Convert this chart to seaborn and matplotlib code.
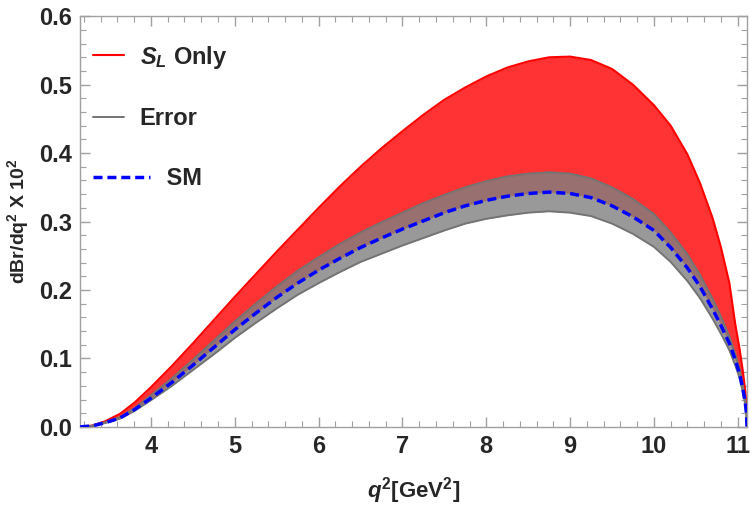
import numpy as np
import pandas as pd
import matplotlib
matplotlib.use("Agg")
import matplotlib.pyplot as plt
import seaborn as sns
from matplotlib.ticker import MultipleLocator, FormatStrFormatter
from matplotlib.legend_handler import HandlerLine2D

# q^2 grid (GeV^2) and curves
q2 = [3.157, 3.3, 3.45, 3.63, 3.8, 4.0, 4.25, 4.5, 4.75, 5.0, 5.25, 5.5, 5.75, 6.0,
      6.25, 6.5, 6.75, 7.0, 7.25, 7.5, 7.75, 8.0, 8.25, 8.5, 8.75, 9.0, 9.25, 9.5,
      9.75, 10.0, 10.2, 10.4, 10.55, 10.7, 10.8, 10.9, 10.97, 11.02, 11.06, 11.09,
      11.105, 11.11]
sm = [0.0, 0.0015, 0.006, 0.013, 0.025, 0.042, 0.065, 0.090, 0.116, 0.142, 0.166, 0.189,
      0.210, 0.229, 0.246, 0.262, 0.276, 0.289, 0.301, 0.313, 0.323, 0.331, 0.337, 0.341,
      0.343, 0.341, 0.335, 0.323, 0.307, 0.287, 0.262, 0.232, 0.205, 0.172, 0.148, 0.122,
      0.098, 0.078, 0.056, 0.035, 0.018, 0.0]
sl_upper = [0.0, 0.002, 0.008, 0.019, 0.035, 0.058, 0.089, 0.122, 0.156, 0.190, 0.223, 0.256,
            0.288, 0.320, 0.351, 0.380, 0.407, 0.432, 0.456, 0.478, 0.496, 0.512, 0.525, 0.534,
            0.540, 0.541, 0.536, 0.523, 0.500, 0.470, 0.440, 0.398, 0.356, 0.305, 0.262, 0.210,
            0.150, 0.115, 0.082, 0.052, 0.028, 0.0]
err_upper = [0.0, 0.0016, 0.0065, 0.014, 0.027, 0.046, 0.071, 0.098, 0.126, 0.154, 0.180, 0.205,
             0.228, 0.248, 0.267, 0.284, 0.299, 0.313, 0.327, 0.339, 0.350, 0.359, 0.366, 0.370,
             0.372, 0.370, 0.363, 0.350, 0.333, 0.311, 0.284, 0.252, 0.222, 0.187, 0.161, 0.132,
             0.106, 0.085, 0.061, 0.038, 0.020, 0.0]
err_lower = [0.0, 0.0014, 0.0055, 0.012, 0.023, 0.039, 0.060, 0.083, 0.106, 0.130, 0.152, 0.173,
             0.193, 0.210, 0.226, 0.241, 0.253, 0.265, 0.276, 0.287, 0.297, 0.304, 0.309, 0.313,
             0.315, 0.313, 0.308, 0.297, 0.282, 0.263, 0.241, 0.213, 0.188, 0.158, 0.136, 0.112,
             0.090, 0.072, 0.051, 0.032, 0.017, 0.0]

df = pd.DataFrame({"q2": q2, "sm": sm, "sl": sl_upper, "eu": err_upper, "el": err_lower})

sns.set_style("ticks")
plt.rcParams["font.family"] = ["Liberation Sans", "DejaVu Sans"]
plt.rcParams["font.weight"] = "bold"
plt.rcParams["mathtext.fontset"] = "custom"
plt.rcParams["mathtext.rm"] = "Liberation Sans:bold"
plt.rcParams["mathtext.it"] = "Liberation Sans:bold:italic"
plt.rcParams["mathtext.bf"] = "Liberation Sans:bold"
plt.rcParams["mathtext.default"] = "regular"


class LongHandle(HandlerLine2D):
    # the SM legend sample is drawn longer than the others
    def get_xdata(self, legend, xdescent, ydescent, width, height, fontsize):
        xd, xm = super().get_xdata(legend, xdescent, ydescent, width, height, fontsize)
        xd = np.array([-xdescent, -xdescent + width * 1.85])
        return xd, xm


fig, ax = plt.subplots(figsize=(7.5, 5.07), dpi=100)
fig.subplots_adjust(left=0.107, right=0.996, bottom=0.158, top=0.968)

# S_L only band (from SM up to the red curve)
ax.fill_between(df["q2"], df["sm"], df["sl"], color="#ff3333", lw=0, zorder=1)
sns.lineplot(data=df, x="q2", y="sl", color="red", lw=1.5, ax=ax, zorder=2,
             estimator=None, label="$\\mathit{S}_\\mathit{L}$ Only")

# theory error band on SM
ax.fill_between(df["q2"], df["el"], df["eu"], color="#808080", alpha=0.8, lw=0, zorder=3)
sns.lineplot(data=df, x="q2", y="eu", color="#747474", lw=1.4, ax=ax, zorder=4,
             estimator=None, label="Error")
sns.lineplot(data=df, x="q2", y="el", color="#747474", lw=1.4, ax=ax, zorder=4,
             estimator=None, label="_nolegend_")

sns.lineplot(data=df, x="q2", y="sm", color="blue", lw=2.5, ax=ax, zorder=5,
             estimator=None, label="    SM")
sm_line = ax.lines[-1]
sm_line.set_dashes([2.6, 1.4])

ax.set_xlim(3.157, 11.11)
ax.set_ylim(0, 0.6)
ax.set_xticks([4, 5, 6, 7, 8, 9, 10, 11])
ax.xaxis.set_minor_locator(MultipleLocator(0.2))
ax.yaxis.set_major_locator(MultipleLocator(0.1))
ax.yaxis.set_minor_locator(MultipleLocator(0.02))
ax.yaxis.set_major_formatter(FormatStrFormatter("%.1f"))

for s in ax.spines.values():
    s.set_visible(True)
    s.set_color("#a0a0a0")
    s.set_linewidth(1.0)
ax.tick_params(which="both", direction="in", top=True, right=True, color="#a0a0a0")
ax.tick_params(which="major", length=7, width=1.0, labelsize=17, pad=6)
ax.tick_params(which="minor", length=4, width=0.8)
for lab in ax.get_xticklabels() + ax.get_yticklabels():
    lab.set_fontweight("bold")

ax.set_xlabel("$\\mathit{q}^2$[GeV$^2$]", fontsize=16, fontweight="bold", labelpad=12)
ax.set_ylabel("dBr/dq$^2$ X 10$^2$", fontsize=14, fontweight="bold", labelpad=6)

ax.legend(loc="upper left", bbox_to_anchor=(-0.012, 0.985), frameon=False,
          handlelength=1.3, handletextpad=0.65, labelspacing=1.55,
          prop={"weight": "bold", "size": 17},
          handler_map={sm_line: LongHandle()})

fig.savefig("out.png", dpi=100)
